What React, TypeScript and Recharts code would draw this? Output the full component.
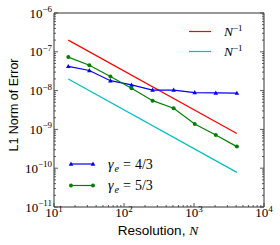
import React from 'react';
import { ComposedChart, Line, XAxis, YAxis, Legend } from 'recharts';

// resolution N and L1 error
const resolution = [16, 32, 64, 128, 256, 512, 1024, 2048, 4096];
const errGamma43 = [4.2e-8, 3.3e-8, 1.8e-8, 1.4e-8, 1.03e-8, 1.03e-8, 8.9e-9, 8.7e-9, 8.6e-9];
const errGamma53 = [7.3e-8, 4.5e-8, 2.3e-8, 1.15e-8, 5.5e-9, 3.5e-9, 1.38e-9, 7.2e-10, 3.6e-10];
// N^-1 reference slopes, only the end points are drawn
const refRed = [2.0e-7, null, null, null, null, null, null, null, 7.8e-10];
const refCyan = [2.0e-8, null, null, null, null, null, null, null, 7.8e-11];

const xDecades = [10, 100, 1000, 10000];
const yDecades = [1e-11, 1e-10, 1e-9, 1e-8, 1e-7, 1e-6];
const minorSteps = [2, 3, 4, 5, 6, 7, 8, 9];

const xTicks = [...xDecades, ...xDecades.slice(0, -1).flatMap((d) => minorSteps.map((m) => d * m))];
const yTicks = [...yDecades, ...yDecades.slice(0, -1).flatMap((d) => minorSteps.map((m) => d * m))];

const data = resolution.map((n, i) => ({
  n,
  g43: errGamma43[i],
  g53: errGamma53[i],
  red: refRed[i],
  cyan: refCyan[i],
}));

const FRAME = '#333';
const SERIF = '"Liberation Serif", "DejaVu Serif", serif';
const SANS = '"Liberation Sans", Arial, sans-serif';
const BLUE = '#0000ff';
const GREEN = '#008000';
const RED = '#ff0000';
const CYAN = '#00bfbf';

const isMajor = (v: number) => Math.abs(Math.log10(v) - Math.round(Math.log10(v))) < 1e-6;
const expOf = (v: number) => {
  const e = Math.round(Math.log10(v));
  return e < 0 ? `\u2212${-e}` : `${e}`;
};

const PowLabel = ({ x, y, v, anchor }: any) => (
  <text x={x} y={y} textAnchor={anchor} fontFamily={SERIF} fontSize={13} fill="#000">
    10<tspan dy={-5.5} fontSize={9}>{expOf(v)}</tspan>
  </text>
);

const BottomTick = ({ x, y, payload }: any) => {
  const major = isMajor(payload.value);
  return (
    <g>
      <line x1={x} x2={x} y1={y} y2={y - (major ? 4 : 2)} stroke={FRAME} strokeWidth={0.8} />
      {major && <PowLabel x={x} y={y + 10} v={payload.value} anchor="middle" />}
    </g>
  );
};

const TopTick = ({ x, y, payload }: any) => {
  const major = isMajor(payload.value);
  return <line x1={x} x2={x} y1={y} y2={y + (major ? 4 : 2)} stroke={FRAME} strokeWidth={0.8} />;
};

const LeftTick = ({ x, y, payload }: any) => {
  const major = isMajor(payload.value);
  return (
    <g>
      <line x1={x} x2={x + (major ? 4 : 2)} y1={y} y2={y} stroke={FRAME} strokeWidth={0.8} />
      {major && <PowLabel x={x - 2} y={y + 4.5} v={payload.value} anchor="end" />}
    </g>
  );
};

const RightTick = ({ x, y, payload }: any) => {
  const major = isMajor(payload.value);
  return <line x1={x} x2={x - (major ? 4 : 2)} y1={y} y2={y} stroke={FRAME} strokeWidth={0.8} />;
};

const TriangleDot = ({ cx, cy }: any) => {
  if (cx == null || cy == null) return null;
  return <path d={`M${cx},${cy - 2.5}L${cx + 2.3},${cy + 1.7}L${cx - 2.3},${cy + 1.7}Z`} fill={BLUE} />;
};

const CircleDot = ({ cx, cy }: any) => {
  if (cx == null || cy == null) return null;
  return <circle cx={cx} cy={cy} r={2} fill={GREEN} />;
};

const XTitle = () => (
  <text x={158} y={235} textAnchor="middle" fontFamily={SANS} fontSize={13.5} fill="#000">
    Resolution, <tspan fontFamily={SERIF} fontStyle="italic">N</tspan>
  </text>
);

const YTitle = () => (
  <text x={18} y={105} textAnchor="middle" fontFamily={SANS} fontSize={12.5} fill="#000" transform="rotate(-90 18 105)">
    L1 Norm of Error
  </text>
);

const InvN = ({ x, y }: any) => (
  <text x={x} y={y} fontFamily={SERIF} fontSize={13.5} fill="#000">
    <tspan fontStyle="italic">N</tspan>
    <tspan dy={-5.5} fontSize={9}>{'\u22121'}</tspan>
  </text>
);

const Gamma = ({ x, y, frac }: any) => (
  <text x={x} y={y} fontFamily={SERIF} fontSize={14} fill="#000">
    <tspan fontStyle="italic">γ</tspan>
    <tspan dx={1} dy={3} fontSize={10} fontStyle="italic">e</tspan>
    <tspan dx={4} dy={-3}>=</tspan>
    <tspan dx={4}>{frac}</tspan>
  </text>
);

const LegendOverlay = () => (
  <svg width={280} height={245} style={{ position: 'absolute', left: 0, top: 0 }}>
    <line x1={189} x2={211} y1={31.5} y2={31.5} stroke={RED} strokeWidth={1.2} />
    <InvN x={224} y={36} />
    <line x1={189} x2={211} y1={51.5} y2={51.5} stroke={CYAN} strokeWidth={1.2} />
    <InvN x={224} y={56} />

    <line x1={71} x2={93} y1={164} y2={164} stroke={BLUE} strokeWidth={1.2} />
    <TriangleDot cx={71} cy={164} />
    <TriangleDot cx={93} cy={164} />
    <Gamma x={108} y={168.5} frac="4/3" />
    <line x1={71} x2={93} y1={185.5} y2={185.5} stroke={GREEN} strokeWidth={1.2} />
    <CircleDot cx={71} cy={185.5} />
    <CircleDot cx={93} cy={185.5} />
    <Gamma x={108} y={190} frac="5/3" />
  </svg>
);

const axisCommon = {
  type: 'number' as const,
  scale: 'log' as const,
  allowDataOverflow: true,
  interval: 0 as const,
  tickLine: false,
  tickSize: 0,
  tickMargin: 0,
  axisLine: { stroke: FRAME, strokeWidth: 1 },
};

export default function App() {
  return (
    <div style={{ position: 'absolute', left: 0, top: 0, width: 280, height: 245, background: '#fff' }}>
      <ComposedChart width={280} height={245} data={data} margin={{ top: 0, right: 0, bottom: 0, left: 0 }}>
        <XAxis xAxisId="b" dataKey="n" {...axisCommon} domain={[10, 10000]} ticks={xTicks} tick={<BottomTick />} height={38} label={<XTitle />} />
        <XAxis xAxisId="t" orientation="top" {...axisCommon} domain={[10, 10000]} ticks={xTicks} tick={<TopTick />} height={13} />
        <YAxis yAxisId="l" {...axisCommon} domain={[1e-11, 1e-6]} ticks={yTicks} tick={<LeftTick />} width={54} label={<YTitle />} />
        <YAxis yAxisId="r" orientation="right" {...axisCommon} domain={[1e-11, 1e-6]} ticks={yTicks} tick={<RightTick />} width={16} />
        <Legend
          layout="vertical"
          align="center"
          verticalAlign="middle"
          wrapperStyle={{ position: 'absolute', left: 0, top: 0, width: 280, height: 245, pointerEvents: 'none' }}
          content={() => <LegendOverlay />}
        />
        <Line xAxisId="b" yAxisId="l" dataKey="red" type="linear" stroke={RED} strokeWidth={1.2} dot={false} connectNulls isAnimationActive={false} />
        <Line xAxisId="b" yAxisId="l" dataKey="cyan" type="linear" stroke={CYAN} strokeWidth={1.2} dot={false} connectNulls isAnimationActive={false} />
        <Line xAxisId="b" yAxisId="l" dataKey="g43" type="linear" stroke={BLUE} strokeWidth={1.2} dot={<TriangleDot />} isAnimationActive={false} />
        <Line xAxisId="b" yAxisId="l" dataKey="g53" type="linear" stroke={GREEN} strokeWidth={1.2} dot={<CircleDot />} isAnimationActive={false} />
      </ComposedChart>
    </div>
  );
}
